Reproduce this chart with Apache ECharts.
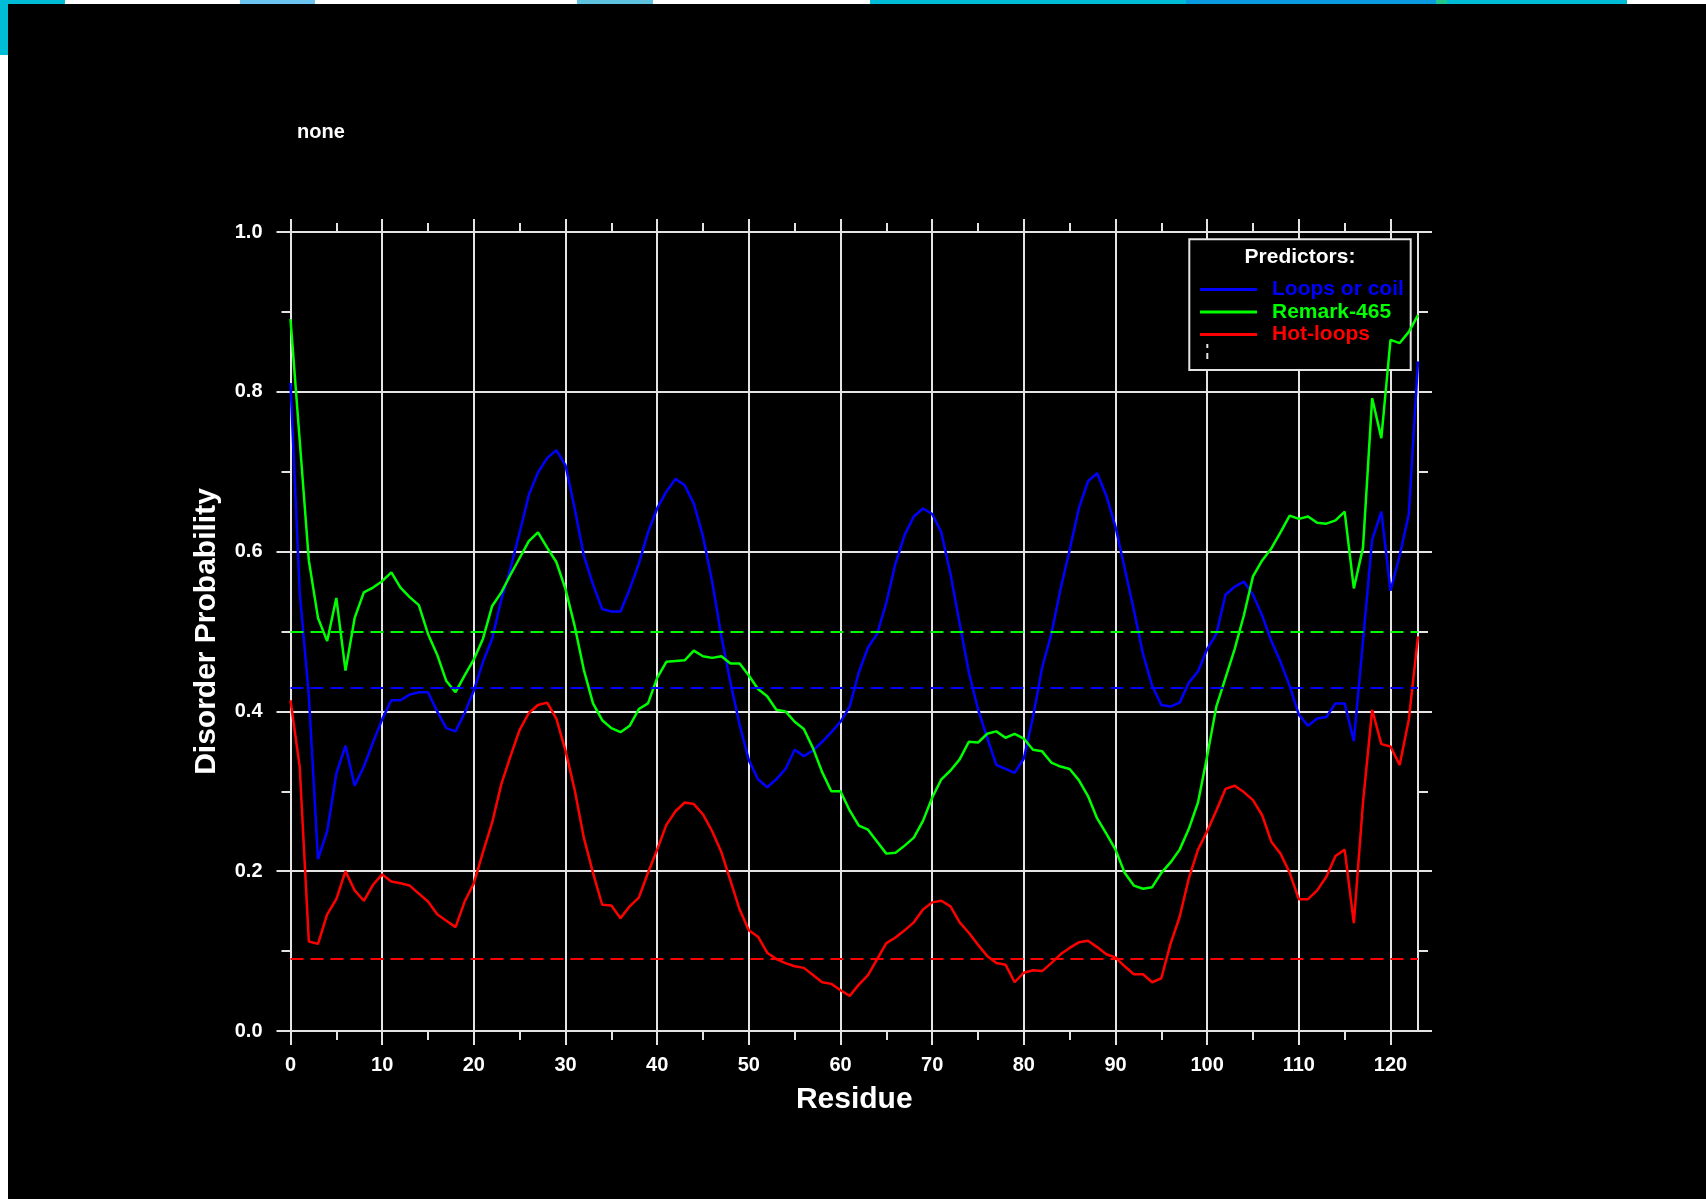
<!DOCTYPE html>
<html><head><meta charset="utf-8">
<script src="https://cdn.jsdelivr.net/npm/echarts@6/dist/echarts.min.js"></script>
<style>
html,body{margin:0;padding:0;background:#fff;width:1706px;height:1199px;overflow:hidden;position:relative;}
.deco{position:absolute;}
#bg{position:absolute;left:7.6px;top:4px;width:1699px;height:1195px;background:#000;}
#chart{position:absolute;left:0;top:0;width:1706px;height:1199px;}
</style></head><body>
<div class="deco" style="left:0;top:0;width:65px;height:4px;background:#00bcd6"></div>
<div class="deco" style="left:0;top:0;width:8px;height:55px;background:#00bcd6"></div>
<div class="deco" style="left:240px;top:0;width:75px;height:4px;background:#6cc5ee"></div>
<div class="deco" style="left:577px;top:0;width:76px;height:4px;background:#5fc3e0"></div>
<div class="deco" style="left:870px;top:0;width:316px;height:4px;background:#00bcd6"></div>
<div class="deco" style="left:1186px;top:0;width:250px;height:4px;background:#0a9ae0"></div>
<div class="deco" style="left:1436px;top:0;width:11px;height:4px;background:#22c78a"></div>
<div class="deco" style="left:1447px;top:0;width:180px;height:4px;background:#00bcd6"></div>
<div id="bg"></div>
<div id="chart"></div>
<script>
// Residue index is the position in each array (0..123)
const loopsCoil = [0.811,0.55,0.42,0.215,0.25,0.322,0.357,0.307,0.331,0.361,
0.39,0.414,0.414,0.421,0.424,0.424,0.40,0.379,0.375,0.398,
0.426,0.462,0.491,0.54,0.579,0.624,0.671,0.699,0.717,0.727,
0.708,0.654,0.595,0.559,0.528,0.525,0.525,0.553,0.585,0.624,
0.654,0.675,0.691,0.683,0.66,0.619,0.5625,0.494,0.436,0.383,
0.339,0.315,0.305,0.315,0.328,0.352,0.344,0.351,0.362,0.374,
0.387,0.406,0.449,0.48,0.497,0.536,0.585,0.621,0.644,0.654,
0.647,0.624,0.572,0.51,0.449,0.403,0.367,0.333,0.328,0.323,
0.341,0.393,0.455,0.497,0.553,0.602,0.654,0.688,0.698,0.67,
0.631,0.579,0.527,0.472,0.432,0.408,0.406,0.411,0.436,0.45,
0.478,0.497,0.546,0.556,0.5625,0.546,0.52,0.488,0.462,0.432,
0.396,0.382,0.391,0.393,0.41,0.41,0.363,0.488,0.615,0.65,
0.551,0.595,0.647,0.838];
const remark465 = [0.891,0.74,0.589,0.517,0.488,0.542,0.451,0.517,0.549,0.555,
0.563,0.574,0.555,0.543,0.533,0.497,0.471,0.438,0.424,0.445,
0.465,0.491,0.532,0.549,0.571,0.592,0.613,0.624,0.605,0.587,
0.553,0.507,0.452,0.41,0.389,0.379,0.374,0.382,0.403,0.41,
0.442,0.462,0.463,0.464,0.476,0.469,0.467,0.469,0.46,0.46,
0.445,0.428,0.419,0.402,0.4,0.387,0.378,0.354,0.324,0.3,
0.3,0.276,0.257,0.252,0.237,0.222,0.223,0.232,0.242,0.263,
0.292,0.315,0.326,0.34,0.362,0.361,0.372,0.375,0.367,0.372,
0.366,0.352,0.35,0.336,0.331,0.328,0.314,0.294,0.266,0.247,
0.227,0.198,0.182,0.178,0.18,0.198,0.211,0.227,0.253,0.286,
0.344,0.406,0.442,0.478,0.52,0.569,0.589,0.604,0.624,0.645,
0.641,0.644,0.636,0.635,0.639,0.65,0.554,0.605,0.792,0.742,
0.865,0.861,0.875,0.896];
const hotLoops = [0.414,0.331,0.112,0.109,0.146,0.165,0.2,0.176,0.163,0.183,
0.196,0.187,0.185,0.182,0.172,0.162,0.146,0.138,0.13,0.162,
0.185,0.224,0.261,0.309,0.344,0.377,0.398,0.408,0.411,0.391,
0.351,0.302,0.242,0.198,0.158,0.157,0.141,0.156,0.167,0.198,
0.227,0.258,0.275,0.286,0.284,0.271,0.25,0.224,0.188,0.152,
0.126,0.118,0.098,0.09,0.085,0.081,0.079,0.07,0.061,0.059,
0.051,0.044,0.058,0.07,0.09,0.11,0.117,0.126,0.136,0.152,
0.161,0.163,0.156,0.136,0.123,0.108,0.094,0.085,0.083,0.061,
0.073,0.076,0.075,0.085,0.096,0.104,0.111,0.113,0.105,0.096,
0.092,0.081,0.071,0.071,0.061,0.066,0.109,0.143,0.191,0.227,
0.25,0.276,0.303,0.307,0.299,0.289,0.27,0.237,0.222,0.198,
0.165,0.165,0.176,0.193,0.219,0.227,0.135,0.286,0.402,0.359,
0.356,0.333,0.39,0.494];
const coilThreshold = 0.43;
const remarkThreshold = 0.5;
const hotThreshold = 0.086;
const seriesNames = ['Loops or coil','Remark-465','Hot-loops'];
const xMajorTicks = [0,10,20,30,40,50,60,70,80,90,100,110,120];
const xMinorTicks = [5,15,25,35,45,55,65,75,85,95,105,115];
const yMajorTicks = [0,0.2,0.4,0.6,0.8,1.0];
const yMinorTicks = [0.1,0.3,0.5,0.7,0.9];

const FONT = "'Liberation Sans', Arial, Helvetica, sans-serif";
const AX = '#e4e4e4';
const lbl = {color:'#fff', fontSize:20, fontWeight:'bold', fontFamily:FONT};
const toPairs = arr => arr.map((v,i)=>[i,v]);

function xAx(pos, ticks, len, opts){
  return Object.assign({type:'value', min:0, max:123, interval:10, position:pos, gridIndex:0,
    axisLine:{show:false, onZero:false, lineStyle:{color:AX,width:2}},
    axisTick:{show:true, inside:false, length:len, customValues:ticks, lineStyle:{color:AX,width:2}},
    axisLabel:{show:false}, splitLine:{show:false}, minorTick:{show:false}}, opts||{});
}
function yAx(pos, ticks, len, opts){
  return Object.assign({type:'value', min:0, max:1, interval:0.2, position:pos, gridIndex:0,
    axisLine:{show:false, onZero:false, lineStyle:{color:AX,width:2}},
    axisTick:{show:true, inside:false, length:len, customValues:ticks, lineStyle:{color:AX,width:2}},
    axisLabel:{show:false}, splitLine:{show:false}, minorTick:{show:false}}, opts||{});
}

const chart = echarts.init(document.getElementById('chart'), null, {renderer:'canvas'});
const option = {
  animation:false,
  backgroundColor:'transparent',
  title:{text:'none', left:297, top:122, padding:0,
    textStyle:{color:'#fff', fontSize:20, fontWeight:'bold', fontFamily:FONT}},
  grid:{left:290.5, top:232, width:1127.5, height:799, containLabel:false},
  xAxis:[
    xAx('bottom', xMajorTicks, 14, {
      axisLine:{show:true, onZero:false, lineStyle:{color:AX,width:2}},
      axisLabel:Object.assign({show:true, margin:24, customValues:xMajorTicks}, lbl),
      splitLine:{show:true, lineStyle:{color:AX,width:2}},
      name:'Residue', nameLocation:'middle', nameGap:54,
      nameTextStyle:{color:'#fff', fontSize:30, fontWeight:'bold', fontFamily:FONT}}),
    xAx('bottom', xMinorTicks, 9),
    xAx('top', xMajorTicks, 13, {axisLine:{show:true, onZero:false, lineStyle:{color:AX,width:2}}}),
    xAx('top', xMinorTicks, 9)
  ],
  yAxis:[
    yAx('left', yMajorTicks, 14, {
      axisLine:{show:true, onZero:false, lineStyle:{color:AX,width:2}},
      axisLabel:Object.assign({show:true, margin:28, customValues:yMajorTicks,
        formatter:v=>Number(v).toFixed(1)}, lbl),
      splitLine:{show:true, lineStyle:{color:AX,width:2}},
      name:'Disorder Probability', nameLocation:'middle', nameGap:69, nameRotate:90,
      nameTextStyle:{color:'#fff', fontSize:30, fontWeight:'bold', fontFamily:FONT}}),
    yAx('left', yMinorTicks, 9),
    yAx('right', yMajorTicks, 14, {axisLine:{show:true, onZero:false, lineStyle:{color:AX,width:2}}}),
    yAx('right', yMinorTicks, 10)
  ],
  legend:{
    orient:'vertical', left:1200, top:279, padding:0, itemGap:1.5,
    itemWidth:57, itemHeight:3, icon:'rect', selectedMode:false,
    textStyle:{fontSize:21, fontWeight:'bold', fontFamily:FONT, padding:[0,0,0,10]},
    data:[
      {name:seriesNames[0], textStyle:{color:'#0000ff'}},
      {name:seriesNames[1], textStyle:{color:'#00ff00'}},
      {name:seriesNames[2], textStyle:{color:'#ff0000'}}
    ]
  },
  graphic:[
    {type:'rect', z:1, shape:{x:1189.3, y:239.3, width:221.4, height:130.7},
      style:{fill:'#000', stroke:AX, lineWidth:2}},
    {type:'text', z:5, x:1300, y:257.3,
      style:{text:'Predictors:', fill:'#fff', font:"bold 21px "+FONT, textAlign:'center', textVerticalAlign:'middle'}},
    {type:'line', z:3, shape:{x1:1207.3,y1:344,x2:1207.3,y2:348}, style:{stroke:AX,lineWidth:2}},
    {type:'line', z:3, shape:{x1:1207.3,y1:353,x2:1207.3,y2:359}, style:{stroke:AX,lineWidth:2}}
  ],
  series:[
    {name:seriesNames[0], type:'line', xAxisIndex:0, yAxisIndex:0, data:toPairs(loopsCoil),
      symbol:'none', showSymbol:false, z:3,
      lineStyle:{color:'#0000ff', width:2.5}, itemStyle:{color:'#0000ff'},
      markLine:{silent:true, symbol:'none', label:{show:false},
        lineStyle:{color:'#0000ff', type:[13,7], width:2}, data:[{yAxis:coilThreshold}]}},
    {name:seriesNames[1], type:'line', xAxisIndex:0, yAxisIndex:0, data:toPairs(remark465),
      symbol:'none', showSymbol:false, z:3,
      lineStyle:{color:'#00ff00', width:2.5}, itemStyle:{color:'#00ff00'},
      markLine:{silent:true, symbol:'none', label:{show:false},
        lineStyle:{color:'#00ff00', type:[13,7], width:2}, data:[{yAxis:remarkThreshold}]}},
    {name:seriesNames[2], type:'line', xAxisIndex:0, yAxisIndex:0, data:toPairs(hotLoops),
      symbol:'none', showSymbol:false, z:3,
      lineStyle:{color:'#ff0000', width:2.5}, itemStyle:{color:'#ff0000'},
      markLine:{silent:true, symbol:'none', label:{show:false},
        lineStyle:{color:'#ff0000', type:[13,7], width:2}, data:[{yAxis:hotThreshold}]}}
  ]
};
chart.setOption(option);
</script>
</body></html>
